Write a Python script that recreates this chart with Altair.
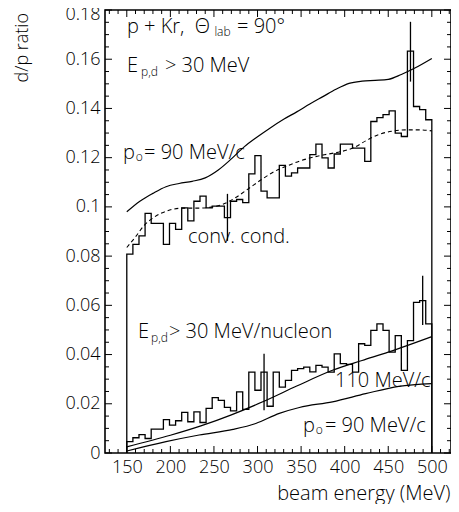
import altair as alt
import pandas as pd

# ---------------- data ----------------
bin_start = 150          # MeV
bin_width = 7            # MeV

upper_ratio = [0.0808, 0.0848, 0.0882, 0.0974, 0.0933, 0.0933, 0.0848, 0.0933, 0.0909, 0.0996,
               0.0943, 0.1023, 0.1044, 0.0996, 0.1003, 0.1003, 0.0956, 0.1023, 0.1030, 0.1017,
               0.1134, 0.1208, 0.1064, 0.1037, 0.1037, 0.1169, 0.1125, 0.1138, 0.1158, 0.1158,
               0.1212, 0.1255, 0.1199, 0.1158, 0.1215, 0.1255, 0.1255, 0.1239, 0.1239, 0.1185,
               0.1347, 0.1363, 0.1375, 0.1390, 0.1300, 0.1286, 0.1633, 0.1408, 0.1395, 0.1354]

lower_ratio = [0.0046, 0.0062, 0.0075, 0.0059, 0.0097, 0.0097, 0.0136, 0.0113, 0.0131, 0.0165,
               0.0127, 0.0167, 0.0124, 0.0181, 0.0225, 0.0214, 0.0185, 0.0171, 0.0248, 0.0177,
               0.0329, 0.0255, 0.0329, 0.0190, 0.0329, 0.0268, 0.0295, 0.0336, 0.0343, 0.0349,
               0.0330, 0.0356, 0.0349, 0.0329, 0.0403, 0.0363, 0.0360, 0.0329, 0.0444, 0.0437,
               0.0498, 0.0525, 0.0498, 0.0410, 0.0477, 0.0336, 0.0457, 0.0612, 0.0619, 0.0525]

upper90_E = [150, 165, 180, 195, 210, 225, 240, 255, 270, 285, 300, 315, 330, 345, 360, 375,
             390, 405, 420, 435, 450, 465, 480, 500]
upper90_ratio = [0.0980, 0.1023, 0.1055, 0.1082, 0.1095, 0.1104, 0.1118, 0.1150, 0.1195, 0.1245,
                 0.1285, 0.1322, 0.1356, 0.1386, 0.1418, 0.1448, 0.1478, 0.1502, 0.1511, 0.1514,
                 0.1518, 0.1538, 0.1563, 0.1603]

conv_E = [150, 160, 170, 180, 190, 200, 215, 230, 245, 260, 275, 290, 305, 320, 335, 350, 365,
          380, 395, 410, 425, 440, 455, 470, 485, 500]
conv_ratio = [0.0835, 0.0878, 0.0925, 0.0955, 0.0975, 0.0988, 0.0995, 0.0995, 0.0998, 0.1010,
              0.1038, 0.1075, 0.1112, 0.1145, 0.1168, 0.1188, 0.1203, 0.1214, 0.1224, 0.1240,
              0.1270, 0.1295, 0.1308, 0.1313, 0.1313, 0.1309]

lower110_E = [150, 200, 235, 270, 306, 345, 386, 420, 450, 500]
lower110_ratio = [0.0025, 0.0072, 0.0110, 0.0155, 0.0208, 0.0272, 0.0336, 0.0376, 0.0410, 0.0473]

lower90_E = [150, 195, 233, 272, 298, 325, 348, 386, 424, 462, 500]
lower90_ratio = [0.0008, 0.0046, 0.0073, 0.0096, 0.0120, 0.0161, 0.0185, 0.0208, 0.0241, 0.0271, 0.0282]

err_E = [265.5, 475.5, 307.5, 489.5]
err_low = [0.0862, 0.1509, 0.0174, 0.0520]
err_high = [0.1053, 0.1752, 0.0403, 0.0720]

x_labels = [150, 200, 250, 300, 350, 400, 450, 500]
y_labels = [0, 0.02, 0.04, 0.06, 0.08, 0.1, 0.12, 0.14, 0.16, 0.18]
x_minor = [v for v in range(130, 521, 10) if v % 50 != 0]
y_minor = [round(0.005 * i, 3) for i in range(37) if i % 4 != 0]

NB = "\u00a0"
ann_text = ["p + Kr," + NB + NB + "\u0398", "= 90\u00b0", "E", "> 30 MeV", "p", "= 90 MeV/c",
            "conv. cond.", "E", "> 30 MeV/nucleon", "110 MeV/c", "p", "= 90 MeV/c"]
ann_E = [150.2, 276.5, 150.2, 193.8, 145.7, 169.8, 220.2, 162.9, 198.4, 388.9, 352.2, 377.4]
ann_ratio = [0.1707, 0.1707, 0.1548, 0.1548, 0.1195, 0.1195, 0.0853, 0.0467, 0.0467, 0.0268,
             0.0085, 0.0085]
sub_text = ["lab", "p,d", "o", "p,d", "o"]
sub_E = [250.5, 166.3, 160.3, 177.8, 366.8]
sub_ratio = [0.1694, 0.1532, 0.1186, 0.0451, 0.0077]

# ---------------- build ----------------
FONT = "Open Sans"
FW = 300
W, H = 346, 443
edges = [bin_start + bin_width * i for i in range(len(upper_ratio) + 1)]


def step_frame(values):
    xs = [edges[0]] + edges[:-1] + [edges[-1], edges[-1]]
    ys = [0.0] + list(values) + [values[-1], 0.0]
    return pd.DataFrame({"E": xs, "ratio": ys, "order": list(range(len(xs)))})


xscale = alt.Scale(domain=[125, 522], nice=False, zero=False)
yscale = alt.Scale(domain=[0, 0.18], nice=False, zero=False)

main_x = alt.Axis(values=x_labels, title="beam energy (MeV)", labelFont=FONT, labelFontSize=18,
                  labelFontWeight=FW, labelColor="black", domain=False, ticks=False, tickSize=0,
                  labelPadding=5, grid=False, labelFlush=False, titleFont=FONT, titleFontSize=20,
                  titleFontWeight=FW, titleColor="black", titleAlign="right",
                  titleBaseline="alphabetic", titleX=W - 1, titleY=46)
main_y = alt.Axis(values=y_labels, format="~g", title=None, labelFont=FONT, labelFontSize=18,
                  labelFontWeight=FW, labelColor="black", domain=False, ticks=False, tickSize=0,
                  labelPadding=5, grid=False, labelFlush=False,
                  labelOffset={"condition": {"test": "datum.value > 0.179", "value": 4}, "value": 0})

upper_hist = alt.Chart(step_frame(upper_ratio)).mark_line(
    interpolate="step-after", color="black", strokeWidth=1.3).encode(
    x=alt.X("E:Q", scale=xscale, axis=main_x),
    y=alt.Y("ratio:Q", scale=yscale, axis=main_y),
    order="order:Q")

lower_hist = alt.Chart(step_frame(lower_ratio)).mark_line(
    interpolate="step-after", color="black", strokeWidth=1.3).encode(
    x=alt.X("E:Q", scale=xscale, axis=None),
    y=alt.Y("ratio:Q", scale=yscale, axis=None),
    order="order:Q")


def curve(E, r, **kw):
    return alt.Chart(pd.DataFrame({"E": E, "ratio": r})).mark_line(
        interpolate="monotone", color="black", **kw).encode(
        x=alt.X("E:Q", scale=xscale, axis=None),
        y=alt.Y("ratio:Q", scale=yscale, axis=None))


upper90 = curve(upper90_E, upper90_ratio, strokeWidth=1.2)
conv = curve(conv_E, conv_ratio, strokeWidth=1.1, strokeDash=[4, 3])
lower110 = curve(lower110_E, lower110_ratio, strokeWidth=1.2)
lower90 = curve(lower90_E, lower90_ratio, strokeWidth=1.2)

errs = alt.Chart(pd.DataFrame({"E": err_E, "lo": err_low, "hi": err_high})).mark_rule(
    color="black", strokeWidth=1.3).encode(
    x=alt.X("E:Q", scale=xscale, axis=None),
    y=alt.Y("lo:Q", scale=yscale, axis=None),
    y2="hi:Q")


# inward-pointing frame ticks
def xticks(vals, y0, y1):
    return alt.Chart(pd.DataFrame({"E": vals})).mark_rule(color="black", strokeWidth=1).encode(
        x=alt.X("E:Q", scale=xscale, axis=None), y=alt.value(y0), y2=alt.value(y1))


def yticks(vals, x0, x1):
    return alt.Chart(pd.DataFrame({"ratio": vals})).mark_rule(color="black", strokeWidth=1).encode(
        y=alt.Y("ratio:Q", scale=yscale, axis=None), x=alt.value(x0), x2=alt.value(x1))


ticks = [
    xticks(x_labels, H, H - 7), xticks(x_minor, H, H - 4),
    xticks(x_labels, 0, 7), xticks(x_minor, 0, 4),
    yticks(y_labels, 0, 7), yticks(y_minor, 0, 4),
    yticks(y_labels, W, W - 7), yticks(y_minor, W, W - 4),
]

texts = alt.Chart(pd.DataFrame({"E": ann_E, "ratio": ann_ratio, "t": ann_text})).mark_text(
    font=FONT, fontSize=20, fontWeight=FW, align="left", baseline="alphabetic", color="black").encode(
    x=alt.X("E:Q", scale=xscale, axis=None),
    y=alt.Y("ratio:Q", scale=yscale, axis=None),
    text="t:N")

subs = alt.Chart(pd.DataFrame({"E": sub_E, "ratio": sub_ratio, "t": sub_text})).mark_text(
    font=FONT, fontSize=12, fontWeight=FW, align="left", baseline="alphabetic", color="black").encode(
    x=alt.X("E:Q", scale=xscale, axis=None),
    y=alt.Y("ratio:Q", scale=yscale, axis=None),
    text="t:N")

ytitle = alt.Chart(pd.DataFrame({"t": ["d/p ratio"]})).mark_text(
    font=FONT, fontSize=18, fontWeight=FW, angle=270, align="right", baseline="alphabetic",
    color="black").encode(x=alt.value(-77), y=alt.value(3), text="t:N")

chart = alt.layer(
    upper_hist, lower_hist, upper90, conv, lower110, lower90, errs, *ticks, texts, subs, ytitle
).resolve_axis(x="independent", y="independent").properties(
    width=W, height=H,
    autosize=alt.AutoSizeParams(type="none"),
    padding={"left": 97, "top": 2, "right": 0, "bottom": 51},
    background="white",
).configure_view(stroke="black", strokeWidth=1.6)

chart.save("out.html", embed_options={"renderer": "svg", "actions": False})
